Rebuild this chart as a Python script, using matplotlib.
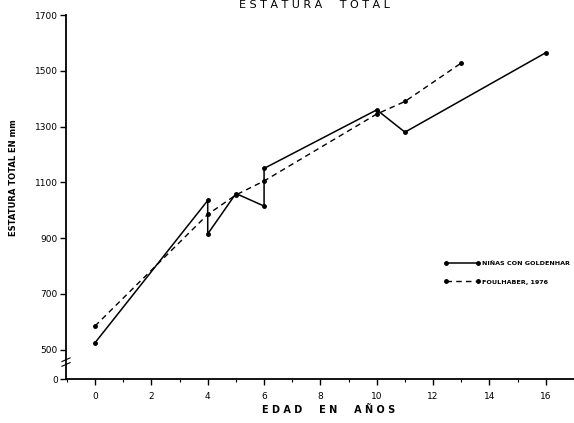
import numpy as np
import matplotlib
matplotlib.use("Agg")
import matplotlib.pyplot as plt
from matplotlib.ticker import FixedLocator, MultipleLocator

# edad (años) y estatura total (mm)
edad_goldenhar = [0, 4, 4, 5, 6, 6, 10, 11, 16]
estatura_goldenhar = [525, 1035, 915, 1060, 1015, 1150, 1360, 1280, 1565]

edad_faulhaber = [0, 4, 5, 6, 10, 11, 13]
estatura_faulhaber = [585, 985, 1055, 1105, 1345, 1390, 1528]

y_ticks = [0, 500, 700, 900, 1100, 1300, 1500, 1700]
x_ticks = [0, 2, 4, 6, 8, 10, 12, 14, 16]

# eje vertical cortado entre 0 y 500
CORTE = 500
COMPRESION = 0.21


def forward(v):
    v = np.asarray(v, dtype=float)
    return np.where(v >= CORTE, v, CORTE - (CORTE - v) * COMPRESION)


def inverse(v):
    v = np.asarray(v, dtype=float)
    return np.where(v >= CORTE, v, CORTE - (CORTE - v) / COMPRESION)


plt.rcParams["font.family"] = ["DejaVu Sans"]
fig = plt.figure(figsize=(5.74, 4.23), dpi=100)
ax = fig.add_axes([0.115, 0.104, 0.885, 0.8605])

ax.plot(edad_goldenhar, estatura_goldenhar, color="black", lw=1.1,
        marker="o", ms=2.5, label="NIÑAS CON GOLDENHAR")
ax.plot(edad_faulhaber, estatura_faulhaber, color="black", lw=1.0,
        ls=(0, (4, 3)), marker="o", ms=2.5, label="FOULHABER, 1976")

ax.set_yscale("function", functions=(forward, inverse))
ax.set_ylim(0, 1700)
ax.set_xlim(-1.03, 17.0)

ax.yaxis.set_major_locator(FixedLocator(y_ticks))
ax.set_yticklabels([str(t) for t in y_ticks])
ax.yaxis.set_minor_locator(FixedLocator([]))
ax.set_xticks(x_ticks)
ax.xaxis.set_minor_locator(MultipleLocator(1))

for side in ["top", "right"]:
    ax.spines[side].set_visible(False)
for side in ["left", "bottom"]:
    ax.spines[side].set_linewidth(1.3)

ax.tick_params(axis="both", which="major", direction="out", length=4,
               width=1.0, labelsize=6.5, pad=2)
ax.tick_params(axis="x", which="major", pad=5)
ax.tick_params(axis="x", which="minor", direction="out", length=2.5, width=0.8)

# marca de corte en el eje vertical
for dy in (0.035, 0.048):
    ax.plot([-0.008, 0.008], [dy, dy + 0.01], transform=ax.transAxes,
            color="black", lw=0.8, clip_on=False)

ax.legend(loc="upper left", bbox_to_anchor=(0.774, 0.383),
          bbox_transform=fig.transFigure, frameon=False,
          handlelength=5.6, handletextpad=0.3, labelspacing=2.0,
          borderpad=0, borderaxespad=0, numpoints=2,
          prop={"weight": "bold", "size": 4.6})

fig.text(0.547, 0.988, "E S T A T U R A     T O T A L", ha="center", va="center",
         fontsize=8)
fig.text(0.573, 0.03, "E D A D     E N     A Ñ O S", ha="center", va="center",
         fontsize=7, fontweight="bold")
fig.text(0.023, 0.58, "ESTATURA TOTAL EN mm", rotation=90, ha="center",
         va="center", fontsize=6, fontweight="bold")

fig.savefig("out.png", dpi=100)
